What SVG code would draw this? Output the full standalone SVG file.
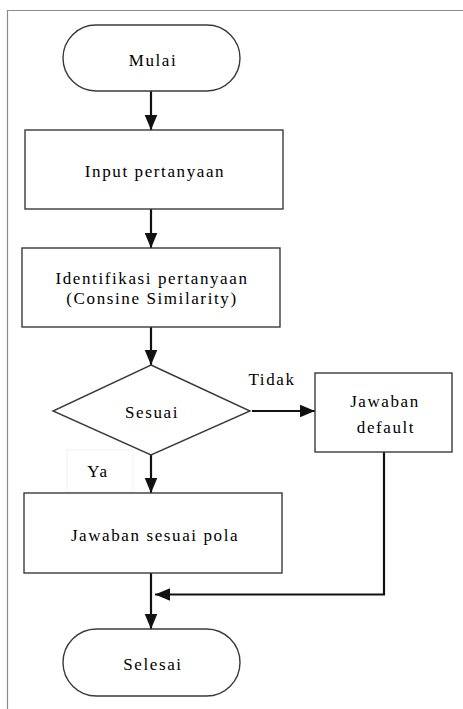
<svg xmlns="http://www.w3.org/2000/svg" width="463" height="709" viewBox="0 0 463 709">
<style>
.shape{fill:#fff;stroke:#3a3a3a;stroke-width:1.4}
.lbl{font-family:"Liberation Serif","Times New Roman",serif;font-size:17px;letter-spacing:1.6px;fill:#000;text-anchor:middle}
.conn{fill:none;stroke:#111;stroke-width:2.2}
</style>
<defs>
<marker id="ahb" viewBox="0 0 10 10" refX="10" refY="5" markerWidth="15" markerHeight="15" markerUnits="userSpaceOnUse" orient="auto">
<path d="M0,0.8 L10,5 L0,9.2 Z" fill="#111"/>
</marker>
</defs>
<rect width="463" height="709" fill="#fff"/>
<path d="M7.5,709 V10.5 H463" fill="none" stroke="#8a8a8a" stroke-width="1.2"/>
<g id="connectors">
<line class="conn" x1="151" y1="91" x2="151" y2="130" marker-end="url(#ahb)"/>
<line class="conn" x1="151" y1="209" x2="151" y2="248" marker-end="url(#ahb)"/>
<line class="conn" x1="151" y1="327" x2="151" y2="365" marker-end="url(#ahb)"/>
<line class="conn" x1="252" y1="411" x2="315" y2="411" marker-end="url(#ahb)"/>
<line class="conn" x1="151" y1="455" x2="151" y2="493" marker-end="url(#ahb)"/>
<line class="conn" x1="151" y1="573" x2="151" y2="629" marker-end="url(#ahb)"/>
<polyline class="conn" points="384,452 384,594.5 155,594.5" marker-end="url(#ahb)"/>
<rect x="67" y="450" width="66" height="42" fill="none" stroke="#f2f2f2" stroke-width="1"/>
<text class="lbl" x="98" y="477">Ya</text>
<text class="lbl" x="272" y="385">Tidak</text>
</g>
<g id="mulai">
<rect class="shape" x="63" y="25" width="177" height="66" rx="33" ry="33"/>
<text class="lbl" x="153" y="66">Mulai</text>
</g>
<g id="input">
<rect class="shape" x="25" y="130" width="258" height="79"/>
<text class="lbl" x="155" y="177">Input pertanyaan</text>
</g>
<g id="identifikasi">
<rect class="shape" x="22" y="248" width="258" height="79"/>
<text class="lbl" x="152" y="284">Identifikasi pertanyaan</text>
<text class="lbl" x="152" y="304">(Consine Similarity)</text>
</g>
<g id="sesuai">
<polygon class="shape" points="151,365 250,411 151,455 53,411"/>
<text class="lbl" x="152" y="418">Sesuai</text>
</g>
<g id="jawaban-default">
<rect class="shape" x="315" y="373" width="137" height="79"/>
<text class="lbl" x="385" y="407">Jawaban</text>
<text class="lbl" x="386" y="433">default</text>
</g>
<g id="jawaban-pola">
<rect class="shape" x="24" y="493" width="258" height="80"/>
<text class="lbl" x="155" y="541">Jawaban sesuai pola</text>
</g>
<g id="selesai">
<rect class="shape" x="63" y="629" width="177" height="67" rx="33.5" ry="33.5"/>
<text class="lbl" x="153" y="670">Selesai</text>
</g>
</svg>
